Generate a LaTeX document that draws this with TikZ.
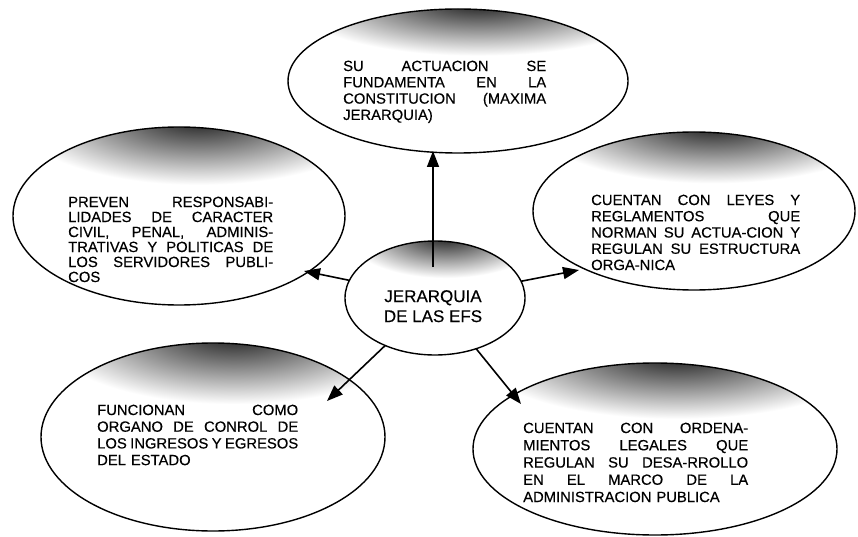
\documentclass[tikz,border=0pt]{standalone}
\usepackage{fontspec}
\setmainfont{Liberation Sans}[FakeBold=0.35]
\usetikzlibrary{shapes.geometric,arrows.meta,calc}
\newcommand\jl[1]{\hbox to \hsize{\spaceskip=0.28em plus 3em minus 0.05em\relax #1}\par}
\newcommand\topshade[4]{%
  \begin{scope}
    \clip (#1,#2) ellipse [x radius=#3, y radius=#4];
    \shade[inner color=black!90, outer color=white]
      ({#1+0.12*#3},{#2-1.1*#4}) ellipse [x radius={1.1*#3}, y radius={0.75*#4}];
  \end{scope}}
\begin{document}
\begin{tikzpicture}[x=1pt,y=-1pt,
  bub/.style={ellipse, draw=black, line width=1.4pt, inner sep=0pt, outer sep=0pt},
  txt/.style={inner sep=0pt, anchor=north west, align=left, font=\fontsize{14.8}{16.5}\selectfont},
  arr/.style={line width=1.6pt, -{Triangle[length=16pt,width=12pt]}}]
\useasboundingbox[fill=white] (0,0) rectangle (858,537);
% shaded tops
\topshade{458}{81}{170}{72}
\topshade{179}{216}{166}{89}
\topshade{694}{211}{161}{79}
\topshade{435}{298}{90}{57}
\topshade{213}{437}{172}{94}
\topshade{655}{449}{182}{86}
% ellipses
\node[bub, minimum width=340pt, minimum height=144pt] (eT) at (458,81) {};
\node[bub, minimum width=332pt, minimum height=178pt] (eL) at (179,216) {};
\node[bub, minimum width=322pt, minimum height=158pt] (eR) at (694,211) {};
\node[bub, minimum width=180pt, minimum height=114pt] (eC) at (435,298) {};
\node[bub, minimum width=344pt, minimum height=188pt] (eBL) at (213,437) {};
\node[bub, minimum width=364pt, minimum height=172pt] (eBR) at (655,449) {};
% texts
\node[txt, text width=203pt, font=\fontsize{14.8}{16.3}\selectfont] (tT) at (343,60.5)
  {\jl{SU ACTUACION SE}\jl{FUNDAMENTA EN LA}\jl{CONSTITUCION (MAXIMA}JERARQUIA)};
\node[txt, text width=205pt, font=\fontsize{14.8}{15}\selectfont] (tL) at (68,196.5)
  {\jl{PREVEN RESPONSABI-}\jl{LIDADES DE CARACTER}\jl{CIVIL, PENAL, ADMINIS-}\jl{TRATIVAS Y POLITICAS DE}\jl{LOS SERVIDORES PUBLI-}COS};
\node[txt, text width=209pt, font=\fontsize{14.8}{16.25}\selectfont] (tR) at (591,194.5)
  {\jl{CUENTAN CON LEYES Y}\jl{REGLAMENTOS QUE}\jl{NORMAN SU ACTUA-CION Y}\jl{REGULAN SU ESTRUCTURA}ORGA-NICA};
\node[txt, text width=201pt, font=\fontsize{14.8}{16.7}\selectfont] (tBL) at (97,404.5)
  {\jl{FUNCIONAN COMO}\jl{ORGANO DE CONROL DE}\jl{LOS INGRESOS Y EGRESOS}DEL ESTADO};
\node[txt, text width=225pt, font=\fontsize{14.8}{17.25}\selectfont] (tBR) at (523,422.5)
  {\jl{CUENTAN CON ORDENA-}\jl{MIENTOS LEGALES QUE}\jl{REGULAN SU DESA-RROLLO}\jl{EN EL MARCO DE LA}ADMINISTRACION PUBLICA};
\node[inner sep=0pt, anchor=north, align=center, font=\fontsize{17}{20}\selectfont] (tC) at (433,290)
  {JERARQUIA\\DE LAS EFS};
% arrows
\coordinate (tipU) at (433,151);
\coordinate (tipL) at (304,271);
\coordinate (tipR) at (579,270);
\coordinate (tipBL) at (327,401);
\coordinate (tipBR) at (521,404);
\draw[arr] ($(eC.north)+(-2,26)$) -- (tipU);
\draw[arr] (eC) -- (tipL);
\draw[arr] (eC) -- (tipR);
\draw[arr] (eC) -- (tipBL);
\draw[arr] (eC) -- (tipBR);
\end{tikzpicture}
\end{document}
